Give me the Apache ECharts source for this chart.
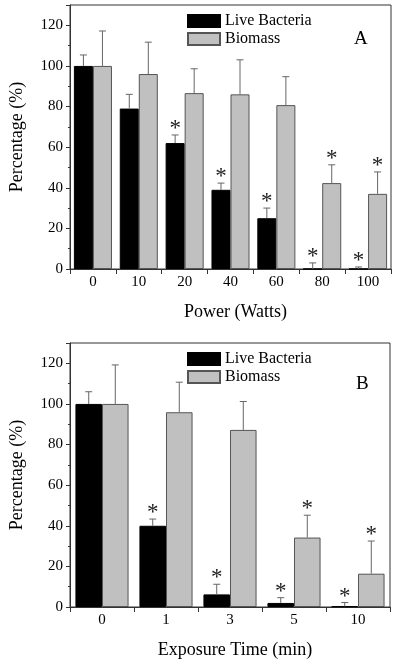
<!DOCTYPE html>
<html>
<head>
<meta charset="utf-8">
<script src="https://cdn.jsdelivr.net/npm/echarts@6/dist/echarts.min.js"></script>
<style>html,body{margin:0;padding:0;background:#fff}#c{width:400px;height:662px}</style>
</head>
<body>
<div id="c"></div>
<script>
// Panel A: Power (Watts)
const catsA = ['0', '10', '20', '40', '60', '80', '100'];
const liveA = [100, 79, 62, 39, 25, 0, 0];
const liveErrA = [5.4, 7, 4, 3.3, 5, 3, 1];
const liveStarA = [0, 0, 1, 1, 1, 1, 1];
const bioA = [100, 96, 86.6, 86, 80.7, 42.3, 37];
const bioErrA = [17.2, 15.7, 12, 17, 14, 9, 10.8];
const bioStarA = [0, 0, 0, 0, 0, 1, 1];

// Panel B: Exposure Time (min)
const catsB = ['0', '1', '3', '5', '10'];
const liveB = [100, 40, 6.2, 2, 0.3];
const liveErrB = [6, 3.3, 5, 2.6, 1.9];
const liveStarB = [0, 1, 1, 1, 1];
const bioB = [100, 95.9, 87.2, 34.2, 16.4];
const bioErrB = [19.2, 14.8, 14, 11, 16.1];
const bioStarB = [0, 0, 0, 1, 1];

const yTicks = { min: 0, max: 130, interval: 20 };

const FONT = 'Liberation Serif';
const GAP = 0.17;

function errData(vals, errs, stars, side) {
  return vals.map((v, i) => [i, v, errs[i], stars[i], side]);
}

function renderErr(params, api) {
  const i = api.value(0), v = api.value(1), e = api.value(2), star = api.value(3), side = api.value(4);
  const catW = api.size([1, 0])[0];
  const barW = catW * (1 - GAP) / 2;
  const p0 = api.coord([i, v]);
  const p1 = api.coord([i, v + e]);
  const x = p0[0] + side * barW / 2;
  const children = [
    { type: 'line', shape: { x1: x, y1: p0[1], x2: x, y2: p1[1] }, style: { stroke: '#666', lineWidth: 1 } },
    { type: 'line', shape: { x1: x - 3.5, y1: p1[1], x2: x + 3.5, y2: p1[1] }, style: { stroke: '#666', lineWidth: 1 } }
  ];
  if (star) {
    children.push({ type: 'text', style: { text: '*', x: x, y: p1[1] - 6, align: 'center', verticalAlign: 'middle', font: '23px "' + FONT + '"', fill: '#222' } });
  }
  return { type: 'group', children };
}

function xAxisCfg(idx, cats, name) {
  return {
    type: 'category', gridIndex: idx, data: cats,
    name: name, nameLocation: 'middle', nameGap: 34,
    nameTextStyle: { fontFamily: FONT, fontSize: 18, color: '#000', padding: [0, 0, 0, 10] },
    axisLine: { lineStyle: { color: '#333', width: 1 } },
    axisTick: { show: true, inside: false, length: 5, lineStyle: { color: '#333' } },
    axisLabel: { fontFamily: FONT, fontSize: 15, color: '#000', margin: 6 },
    splitLine: { show: false }
  };
}
function yAxisCfg(idx) {
  return {
    type: 'value', gridIndex: idx, min: yTicks.min, max: yTicks.max, interval: yTicks.interval,
    name: 'Percentage (%)', nameLocation: 'middle', nameGap: 44,
    nameTextStyle: { fontFamily: FONT, fontSize: 18, color: '#000' },
    axisLine: { show: true, lineStyle: { color: '#333', width: 1 } },
    axisTick: { show: true, inside: false, length: 4, lineStyle: { color: '#333' } },
    minorTick: { show: true, splitNumber: 2, length: 2, lineStyle: { color: '#333' } },
    axisLabel: { fontFamily: FONT, fontSize: 15, color: '#000', margin: 7, showMaxLabel: false },
    splitLine: { show: false }
  };
}
function barSeries(name, xi, data, dark) {
  return {
    type: 'bar', name, xAxisIndex: xi, yAxisIndex: xi, data,
    barGap: '0%', barCategoryGap: (GAP * 100) + '%',
    itemStyle: dark ? { color: '#000', borderColor: '#000', borderWidth: 1 } : { color: '#c0c0c0', borderColor: '#555', borderWidth: 1 }
  };
}
function errSeries(xi, data) {
  return { type: 'custom', xAxisIndex: xi, yAxisIndex: xi, data, renderItem: renderErr, z: 5, silent: true };
}
function legendCfg(top) {
  return {
    left: 187, top: top, orient: 'vertical', itemWidth: 32, itemHeight: 12, itemGap: 2, padding: 0,
    icon: 'rect',
    textStyle: { fontFamily: FONT, fontSize: 16, color: '#000', lineHeight: 16 },
    data: ['Live Bacteria', 'Biomass'], selectedMode: false
  };
}

const chart = echarts.init(document.getElementById('c'));
chart.setOption({
  animation: false,
  backgroundColor: '#fff',
  grid: [
    { left: 68, top: 5, width: 323, height: 264, show: true, borderColor: '#333', borderWidth: 1, backgroundColor: 'transparent' },
    { left: 68, top: 343, width: 322, height: 264, show: true, borderColor: '#333', borderWidth: 1, backgroundColor: 'transparent' }
  ],
  xAxis: [xAxisCfg(0, catsA, 'Power (Watts)'), xAxisCfg(1, catsB, 'Exposure Time (min)')],
  yAxis: [yAxisCfg(0), yAxisCfg(1)],
  legend: [legendCfg(13), legendCfg(351)],
  graphic: [
    { type: 'text', left: 354, top: 30, style: { text: 'A', font: '19px "' + FONT + '"', fill: '#000' } },
    { type: 'text', left: 356, top: 375, style: { text: 'B', font: '19px "' + FONT + '"', fill: '#000' } }
  ],
  series: [
    barSeries('Live Bacteria', 0, liveA, true),
    barSeries('Biomass', 0, bioA, false),
    barSeries('Live Bacteria', 1, liveB, true),
    barSeries('Biomass', 1, bioB, false),
    errSeries(0, errData(liveA, liveErrA, liveStarA, -1)),
    errSeries(0, errData(bioA, bioErrA, bioStarA, 1)),
    errSeries(1, errData(liveB, liveErrB, liveStarB, -1)),
    errSeries(1, errData(bioB, bioErrB, bioStarB, 1))
  ]
});
</script>
</body>
</html>
